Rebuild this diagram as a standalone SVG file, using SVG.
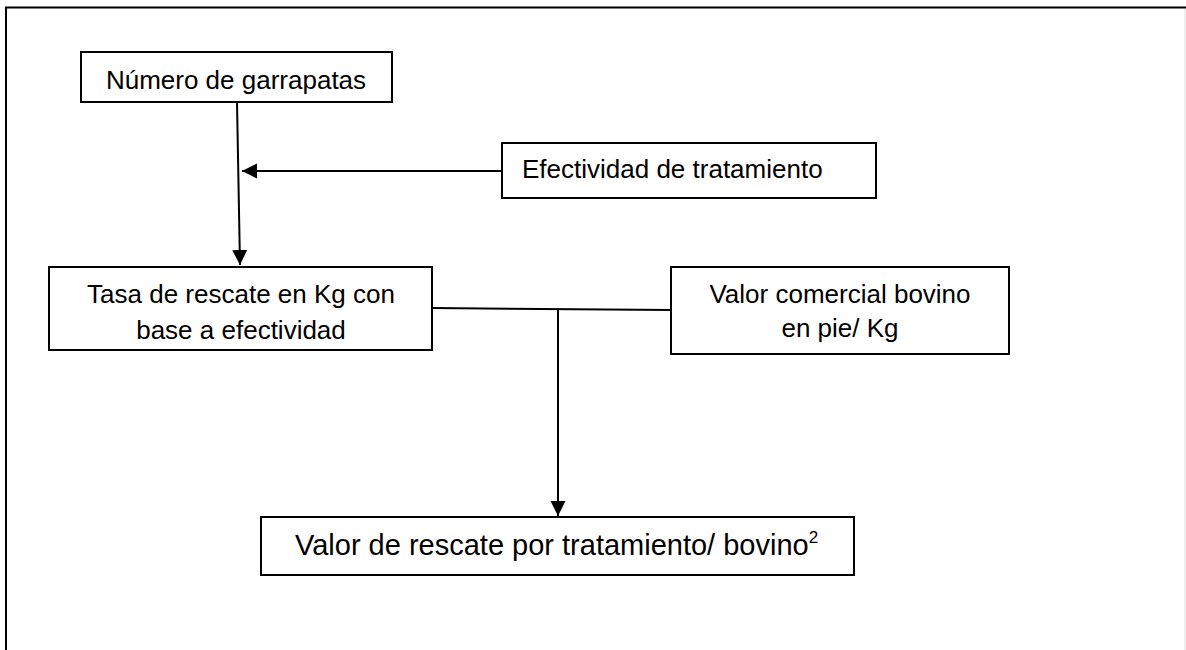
<svg xmlns="http://www.w3.org/2000/svg" width="1186" height="650" viewBox="0 0 1186 650">
<style>
.box{fill:#fff;stroke:#000;stroke-width:2}
.t{font-family:"Liberation Sans",Arial,sans-serif;font-size:26px;fill:#000}
.c{stroke:#000;stroke-width:2;fill:none}
</style>
<defs>
<marker id="ah" markerUnits="userSpaceOnUse" markerWidth="16" markerHeight="16" refX="15" refY="7.5" orient="auto">
<path d="M0,0 L15,7.5 L0,15 Z" fill="#000"/>
</marker>
</defs>
<rect width="1186" height="650" fill="#fff"/>
<g id="frame">
<path d="M6,650 V7.5 H1186" fill="none" stroke="#000" stroke-width="2"/>
<line x1="1185" y1="9" x2="1185" y2="650" stroke="#ddd" stroke-width="1"/>
</g>
<g id="connectors">
<line class="c" x1="237" y1="102" x2="240" y2="265" marker-end="url(#ah)"/>
<line class="c" x1="502" y1="171" x2="242" y2="171" marker-end="url(#ah)"/>
<line class="c" x1="432" y1="308" x2="671" y2="310"/>
<line class="c" x1="558" y1="309" x2="558" y2="516" marker-end="url(#ah)"/>
</g>
<g id="n1">
<rect class="box" x="81" y="52" width="311" height="50"/>
<text class="t" x="236" y="89" text-anchor="middle">Número de garrapatas</text>
</g>
<g id="n2">
<rect class="box" x="502" y="143" width="374" height="55"/>
<text class="t" x="522" y="178">Efectividad de tratamiento</text>
</g>
<g id="n3">
<rect class="box" x="49" y="267" width="383" height="83"/>
<text class="t" x="241" y="303" text-anchor="middle">Tasa de rescate en Kg con</text>
<text class="t" x="241" y="339" text-anchor="middle">base a efectividad</text>
</g>
<g id="n4">
<rect class="box" x="671" y="267" width="338" height="87"/>
<text class="t" x="840" y="303" text-anchor="middle">Valor comercial bovino</text>
<text class="t" x="840" y="337" text-anchor="middle">en pie/ Kg</text>
</g>
<g id="n5">
<rect class="box" x="261" y="517" width="593" height="58"/>
<text class="t" x="295" y="555" style="font-size:29px">Valor de rescate por tratamiento/ bovino<tspan dy="-12" style="font-size:17px">2</tspan></text>
</g>
</svg>
